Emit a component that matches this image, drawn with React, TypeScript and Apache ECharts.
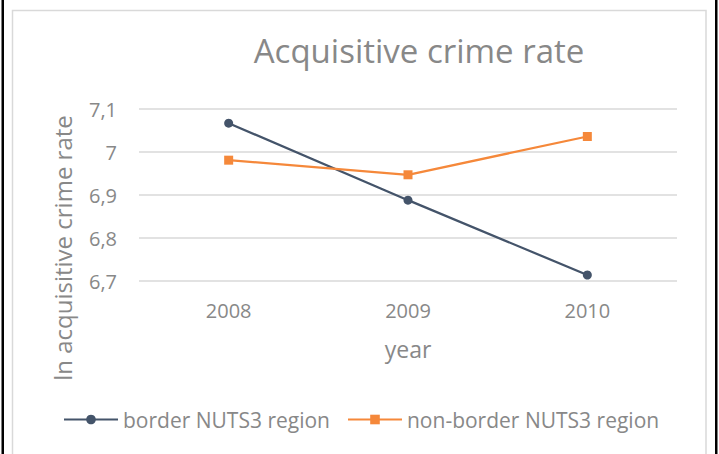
import React, { useEffect, useRef } from "react";
import * as echarts from "echarts";

const years = ["2008", "2009", "2010"];
const borderValues = [7.067, 6.888, 6.714];
const nonBorderValues = [6.981, 6.947, 7.036];
const yTicks = { min: 6.7, max: 7.1, interval: 0.1 };
const seriesNames = ["border NUTS3 region", "non-border NUTS3 region"];
const titleText = "Acquisitive crime rate";
const yName = "ln acquisitive crime rate";
const xName = "year";

const FONT = "'Open Sans', sans-serif";
const GRAY = "#888888";
const NAVY = "#44546A";
const ORANGE = "#F5883A";

export default function App() {
  const ref = useRef<HTMLDivElement>(null);
  useEffect(() => {
    if (!ref.current) return;
    const chart = echarts.init(ref.current, undefined, { renderer: "svg" });
    chart.setOption({
      animation: false,
      backgroundColor: "#ffffff",
      textStyle: { fontFamily: FONT },
      graphic: [
        { type: "rect", shape: { x: 1.5, y: 0, width: 2.5, height: 454 }, style: { fill: "#000" }, silent: true },
        { type: "rect", shape: { x: 715, y: 0, width: 2.5, height: 454 }, style: { fill: "#000" }, silent: true },
        {
          type: "rect",
          shape: { x: 12.5, y: 10.5, width: 693.5, height: 460 },
          style: { fill: "none", stroke: "#d9d9d9", lineWidth: 1.5 },
          silent: true,
        },
        {
          type: "text",
          x: 419,
          y: 50,
          style: {
            text: titleText,
            fontFamily: FONT,
            fontSize: 33,
            fill: GRAY,
            align: "center",
            verticalAlign: "middle",
          },
        },
        {
          type: "text",
          x: 62,
          y: 248,
          rotation: Math.PI / 2,
          style: {
            text: yName,
            fontFamily: FONT,
            fontSize: 24,
            fill: GRAY,
            align: "center",
            verticalAlign: "middle",
          },
        },
      ],
      grid: { left: 139, right: 42, top: 109, bottom: 173, containLabel: false },
      legend: {
        left: 58,
        top: 404,
        itemWidth: 54,
        itemHeight: 12,
        itemGap: 17,
        textStyle: { fontFamily: FONT, fontSize: 21, color: GRAY },
        data: seriesNames,
      },
      xAxis: {
        type: "category",
        data: years,
        boundaryGap: true,
        axisLine: { show: false },
        axisTick: { show: false },
        axisLabel: { fontFamily: FONT, fontSize: 20, color: GRAY, margin: 19 },
        name: xName,
        nameLocation: "middle",
        nameGap: 56,
        nameTextStyle: { fontFamily: FONT, fontSize: 23, color: GRAY },
      },
      yAxis: {
        type: "value",
        min: yTicks.min,
        max: yTicks.max,
        interval: yTicks.interval,
        axisLine: { show: false },
        axisTick: { show: false },
        splitLine: { lineStyle: { color: "#d9d9d9", width: 1.5 } },
        axisLabel: {
          fontFamily: FONT,
          fontSize: 20,
          color: GRAY,
          margin: 22,
          formatter: (v: number) => String(Math.round(v * 10) / 10).replace(".", ","),
        },
      },
      series: [
        {
          name: seriesNames[0],
          type: "line",
          data: borderValues,
          symbol: "circle",
          symbolSize: 9,
          lineStyle: { color: NAVY, width: 2.25 },
          itemStyle: { color: NAVY },
        },
        {
          name: seriesNames[1],
          type: "line",
          data: nonBorderValues,
          symbol: "rect",
          symbolSize: 9,
          lineStyle: { color: ORANGE, width: 2.25 },
          itemStyle: { color: ORANGE },
        },
      ],
    });
    return () => chart.dispose();
  }, []);
  return (
    <div style={{ position: "fixed", left: 0, top: 0, width: 719, height: 454, background: "#fff" }}>
      <div ref={ref} style={{ width: 719, height: 454 }} />
    </div>
  );
}
